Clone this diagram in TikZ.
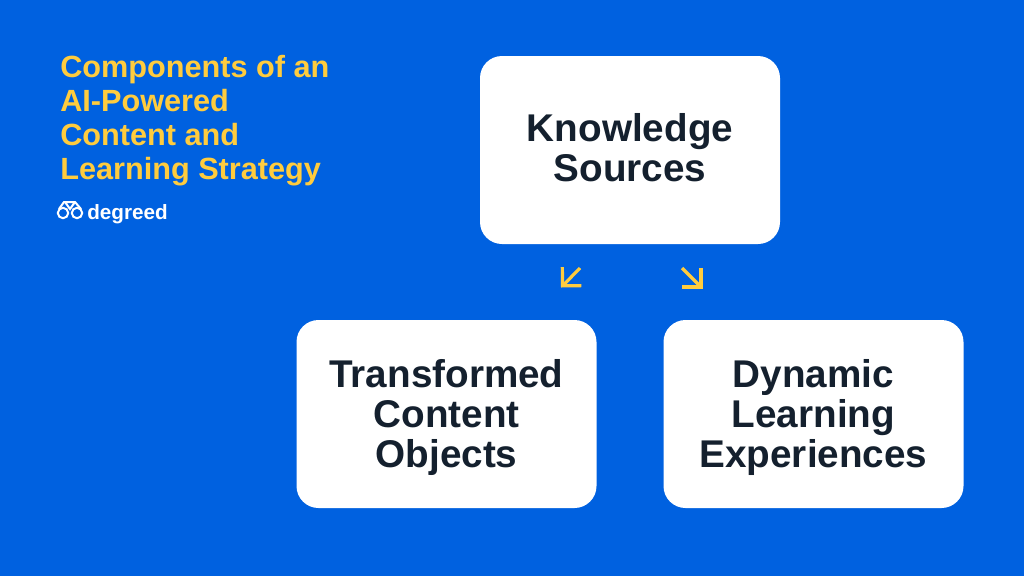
\documentclass[tikz,border=0pt]{standalone}
\usepackage{fontspec}
\setmainfont{Liberation Sans}
\usetikzlibrary{arrows.meta}
\definecolor{bgblue}{HTML}{0061E0}
\definecolor{titleyellow}{HTML}{FFCC3E}
\definecolor{inkdark}{HTML}{14202E}
\tikzset{
  card/.style={draw=none, fill=white, rounded corners=16.5pt, minimum width=225pt, minimum height=141pt},
  cardtext/.style={inner sep=0pt, align=center, text=inkdark, font=\bfseries\fontsize{29}{30}\selectfont},
  flow/.style={draw=titleyellow, line width=2.4pt, -{Straight Barb[length=10pt,width=20pt,line width=2.4pt]}},
}
\begin{document}
\begin{tikzpicture}[x=0.75pt,y=-0.75pt]
    % background
    \fill[bgblue] (0,0) rectangle (1024,576);
    \useasboundingbox (0,0) rectangle (1024,576);

    % title
    \node[anchor=north west, inner sep=0pt, align=left, text=titleyellow,
      font=\bfseries\fontsize{23}{25.5}\selectfont] (title) at (60,55)
      {Components of an\\AI-Powered\\Content and\\Learning Strategy};

    % logo
    \node[anchor=west, inner sep=0pt, text=white, font=\bfseries\fontsize{15.5}{16}\selectfont] (brand) at (87,214) {degreed};
    \draw[white, line width=1.5pt] (63,213) circle (5.2) (77,213) circle (5.2);
    \draw[white, line width=1.5pt] (59,209) -- (64,202) -- (75,202) -- (81,209) (65,202) -- (70,209) -- (75,202);

    % boxes
    \node[card] (sources) at (630,150) {};
    \node[card] (objects) at (446.5,414) {};
    \node[card] (experiences) at (813.5,414) {};

    % box texts
    \node[cardtext] (sourcestext) at (630,148) {Knowledge\\Sources};
    \node[cardtext] (objectstext) at (446.5,417) {Transformed\\Content\\Objects};
    \node[cardtext] (experiencestext) at (813.5,417) {Dynamic\\Learning\\Experiences};

    % arrows
    \coordinate (leftstart) at (580,268);
    \coordinate (leftend) at (561,287.5);
    \coordinate (rightstart) at (682,268);
    \coordinate (rightend) at (702.5,288.5);
    \draw[flow] (leftstart) -- (leftend);
    \draw[flow] (rightstart) -- (rightend);
\end{tikzpicture}
\end{document}
